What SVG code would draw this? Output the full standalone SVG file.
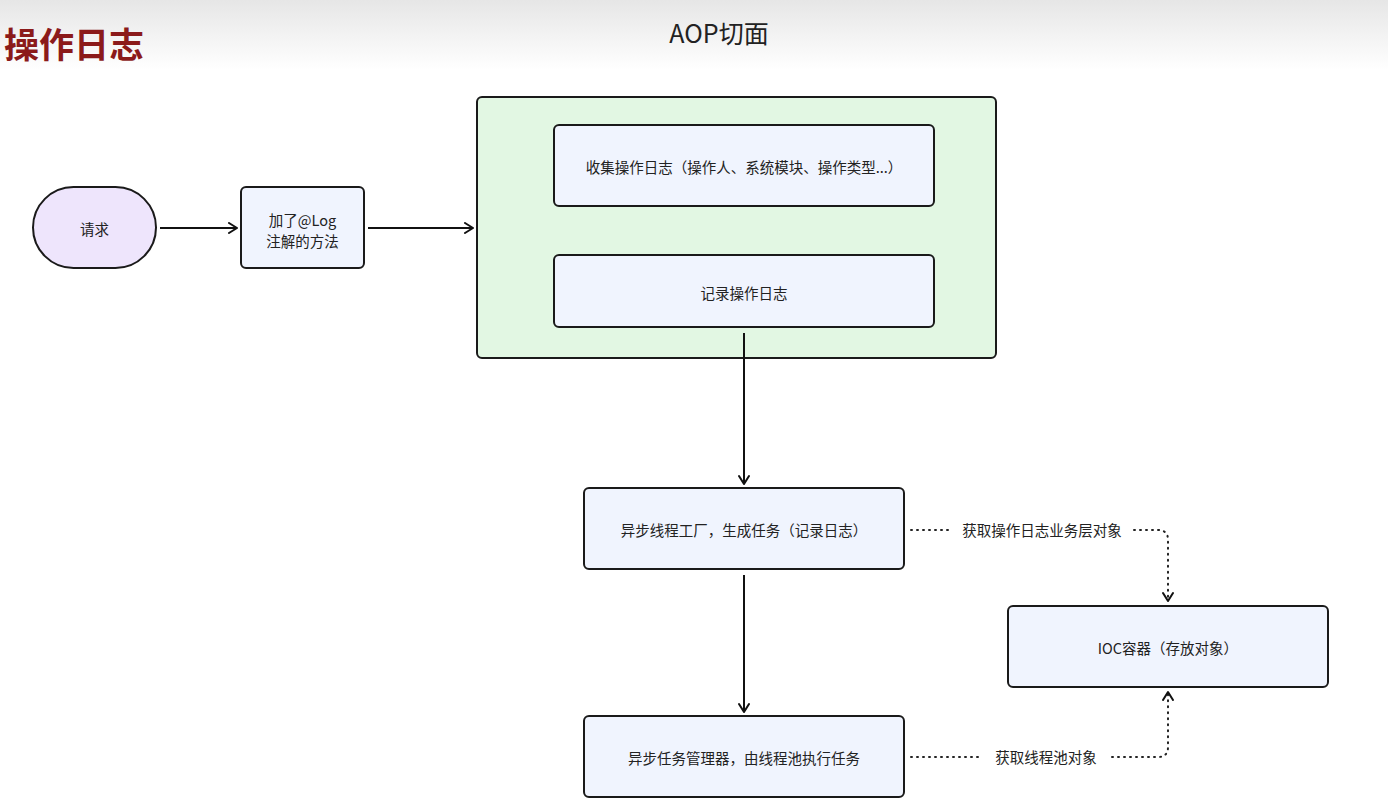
<svg xmlns="http://www.w3.org/2000/svg" width="1388" height="800" viewBox="0 0 1388 800">
<defs>
<linearGradient id="topbg" x1="0" y1="0" x2="0" y2="1">
<stop offset="0" stop-color="#e6e6e6"/>
<stop offset="1" stop-color="#ffffff"/>
</linearGradient>
<marker id="arr" viewBox="0 0 12 12" refX="10" refY="6" markerWidth="12" markerHeight="12" markerUnits="userSpaceOnUse" orient="auto">
<path d="M2,1 L10,6 L2,11" fill="none" stroke="#111" stroke-width="2" stroke-linecap="round" stroke-linejoin="round"/>
</marker>
</defs>
<style>
text{font-family:"Noto Sans CJK SC","Liberation Sans",sans-serif;fill:#222;}
.box{fill:#f0f4fe;stroke:#1a1a1a;stroke-width:2;}
.lbl{font-size:14.5px;text-anchor:middle;dominant-baseline:central;}
.solid{fill:none;stroke:#111;stroke-width:2;}
.dot{fill:none;stroke:#222;stroke-width:2;stroke-dasharray:1 5;stroke-linecap:round;}
</style>
<rect x="0" y="0" width="1388" height="800" fill="#ffffff"/>
<rect x="0" y="0" width="1388" height="70" fill="url(#topbg)"/>
<text x="4" y="58" font-size="35" font-weight="bold" style="fill:#8b1a1a">操作日志</text>
<text x="719" y="43" font-size="25" text-anchor="middle" style="fill:#222">AOP切面</text>

<g id="aop">
<rect x="477" y="97" width="519" height="261" rx="5" fill="#e2f7e3" stroke="#1a1a1a" stroke-width="2"/>
</g>
<g id="request">
<rect x="33" y="187" width="123" height="81" rx="40.5" fill="#eee5fc" stroke="#1a1a1a" stroke-width="2"/>
<text class="lbl" x="94.5" y="228">请求</text>
</g>
<g id="method">
<rect class="box" x="241" y="187" width="123" height="81" rx="5"/>
<text class="lbl" x="302.5" y="219">加了@Log</text>
<text class="lbl" x="302.5" y="240">注解的方法</text>
</g>
<g id="collect">
<rect class="box" x="554" y="125" width="380" height="81" rx="5"/>
<text class="lbl" x="744" y="166">收集操作日志（操作人、系统模块、操作类型...）</text>
</g>
<g id="record">
<rect class="box" x="554" y="255" width="380" height="72" rx="5"/>
<text class="lbl" x="744" y="292">记录操作日志</text>
</g>
<g id="factory">
<rect class="box" x="584" y="488" width="320" height="81" rx="5"/>
<text class="lbl" x="744" y="529">异步线程工厂，生成任务（记录日志）</text>
</g>
<g id="manager">
<rect class="box" x="584" y="716" width="320" height="81" rx="5"/>
<text class="lbl" x="744" y="757">异步任务管理器，由线程池执行任务</text>
</g>
<g id="ioc">
<rect class="box" x="1008" y="606" width="320" height="81" rx="5"/>
<text class="lbl" x="1168" y="647">IOC容器（存放对象）</text>
</g>

<g id="connectors">
<line class="solid" x1="160" y1="228" x2="237" y2="228" marker-end="url(#arr)"/>
<line class="solid" x1="368" y1="228" x2="473" y2="228" marker-end="url(#arr)"/>
<line class="solid" x1="744" y1="333" x2="744" y2="484" marker-end="url(#arr)"/>
<line class="solid" x1="744" y1="575" x2="744" y2="712" marker-end="url(#arr)"/>
<path class="dot" d="M911,530 L953,530"/>
<path class="dot" d="M1134,530 L1158,530 Q1168,530 1168,540 L1168,601" marker-end="url(#arr)"/>
<text class="lbl" x="1042" y="529">获取操作日志业务层对象</text>
<path class="dot" d="M911,757 L983,757"/>
<path class="dot" d="M1112,757 L1158,757 Q1168,757 1168,747 L1168,692" marker-end="url(#arr)"/>
<text class="lbl" x="1046" y="756">获取线程池对象</text>
</g>
</svg>
